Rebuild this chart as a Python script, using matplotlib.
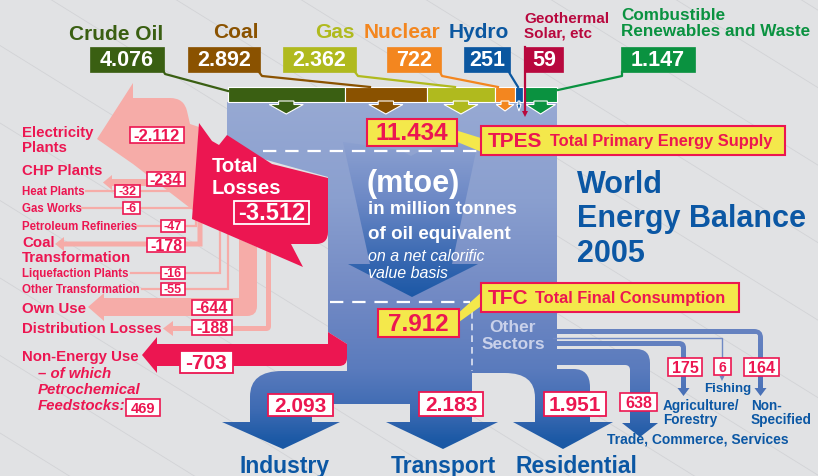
import numpy as np
import matplotlib
matplotlib.use('Agg')
import matplotlib.pyplot as plt
from matplotlib.path import Path
from matplotlib.patches import PathPatch, Rectangle, Polygon
from matplotlib.colors import to_rgb

# ---------------- data ----------------
sources = ["Crude Oil", "Coal", "Gas", "Nuclear", "Hydro",
           "Geothermal\nSolar, etc", "Combustible\nRenewables and Waste"]
source_values = [4076, 2892, 2362, 722, 251, 59, 1147]
tpes = 11434
tfc = 7912
total_losses = -3512
loss_items = ["Electricity\nPlants", "CHP Plants", "Heat Plants", "Gas Works",
              "Petroleum Refineries", "Coal\nTransformation", "Liquefaction Plants",
              "Other Transformation", "Own Use", "Distribution Losses"]
loss_values = [-2112, -234, -32, -6, -47, -178, -16, -55, -644, -188]
non_energy = -703
petrochem = 469
sectors = ["Industry", "Transport", "Residential"]
sector_values = [2093, 2183, 1951]
other_sectors = ["Trade, Commerce, Services", "Agriculture/\nForestry", "Fishing", "Non-\nSpecified"]
other_values = [638, 175, 6, 164]

# ---------------- style ----------------
BG = '#e1e2e4'
RED = '#ec1651'
PINK = '#f6aca8'
YEL = '#f4e84b'
TBLUE = '#0b57a4'
SRC_COL = ['#3a5f12', '#8a5200', '#b0ba1e', '#f3861f', '#0b57a0', '#b8083e', '#0a9240']
plt.rcParams['font.family'] = ['Liberation Sans', 'DejaVu Sans']


def fmt(v):
    s = f"{abs(v):,}".replace(",", ".")
    return ("-" if v < 0 else "") + s


W, H = 818, 477
fig = plt.figure(figsize=(8.18, 4.77), dpi=100)
fig.patch.set_facecolor(BG)
ax = fig.add_axes([0, 0, 1, 1])
ax.set_facecolor(BG)


def rpath(pts):
    n = len(pts)
    verts, codes = [], []
    for i, q in enumerate(pts):
        p = np.array(q[:2], float)
        r = q[2] if len(q) > 2 else 0
        if r <= 0:
            verts.append(p); codes.append(Path.MOVETO if i == 0 else Path.LINETO)
        else:
            a = np.array(pts[i - 1][:2], float); b = np.array(pts[(i + 1) % n][:2], float)
            da, db = a - p, b - p
            la, lb = np.hypot(*da), np.hypot(*db)
            s = p + da / la * min(r, la / 2); e = p + db / lb * min(r, lb / 2)
            verts.append(s); codes.append(Path.MOVETO if i == 0 else Path.LINETO)
            verts += [p, e]; codes += [Path.CURVE3, Path.CURVE3]
    verts.append(verts[0]); codes.append(Path.CLOSEPOLY)
    return Path(verts, codes)


def grad_fill(pts, stops, z):
    patch = PathPatch(rpath(pts), fc='none', ec='none', zorder=z)
    ax.add_patch(patch)
    ys = np.arange(H) + 0.5
    pos = [s[0] for s in stops]
    cols = np.array([to_rgb(s[1]) for s in stops])
    img = np.stack([np.interp(ys, pos, cols[:, k]) for k in range(3)], axis=-1)[:, None, :]
    im = ax.imshow(img, extent=(0, W, H, 0), aspect='auto', zorder=z, interpolation='bilinear')
    im.set_clip_path(patch)


def solid(pts, color, z, ec='none', lw=0):
    ax.add_patch(PathPatch(rpath(pts), fc=color, ec=ec, lw=lw, zorder=z))


def box(x0, y0, x1, y1, text, fs, fc='white', ec=RED, tc=RED, lw=1.3, z=10, style='normal'):
    ax.add_patch(Rectangle((x0, y0), x1 - x0, y1 - y0, fc=fc, ec=ec, lw=lw, zorder=z))
    ax.text((x0 + x1) / 2, (y0 + y1) / 2 + 0.5, text, fontsize=fs, color=tc, weight='bold',
            ha='center', va='center', zorder=z + 1, style=style)


def txt(x, y, s, fs, color, ha='left', va='center', weight='bold', style='normal', z=12, family=None):
    kw = {}
    if family:
        kw['family'] = family
    ax.text(x, y, s, fontsize=fs, color=color, ha=ha, va=va, weight=weight, style=style, zorder=z, **kw)


# ---------------- background diagonal lines ----------------
for x0 in range(-700, 900, 125):
    xs = np.array([x0, x0 + 900])
    ax.plot(xs, 0.62 * (xs - x0), color='#d2d3d6', lw=0.6, zorder=0)

# ---------------- pink loss streams ----------------
solid([(133, 84), (133, 99), (184, 99, 14), (190, 125), (199, 128), (194, 212), (133, 165), (97, 140)], PINK, 2)
# CHP
solid([(103, 183.5), (112, 176), (112, 180), (194, 180), (194, 187), (112, 187), (112, 191)], PINK, 2)
# Coal transformation
solid([(55, 245), (64, 238), (64, 242.5), (197.5, 242.5), (197.5, 222), (202.5, 224),
       (202.5, 247.5), (64, 247.5), (64, 252)], PINK, 2)
# Own use
solid([(88, 308), (104, 294), (104, 299), (239, 299), (239, 240), (257, 248),
       (257, 317, 10), (104, 317), (104, 322)], PINK, 2)
# Distribution losses
solid([(163, 329.5), (173, 322), (173, 327), (266, 327), (266, 251), (271, 253),
       (271, 332, 5), (173, 332), (173, 337)], PINK, 2)
# thin losses
for pts in [[(86, 192), (194, 192)], [(82, 209), (194, 209)], [(137, 227), (196, 227), (196, 222)],
            [(131, 274), (220, 274), (220, 232)], [(142, 290), (228, 290), (228, 236)]]:
    p = np.array(pts)
    ax.plot(p[:, 0], p[:, 1], color=PINK, lw=1.6, zorder=2, solid_joinstyle='miter')

# ---------------- blue flows ----------------
BLUE_STOPS = [(0, '#9aacd5'), (103, '#97a9d3'), (200, '#8a9fcf'), (300, '#7189c4'),
              (370, '#5a7bbd'), (410, '#3e6bb3'), (440, '#1d5aa6'), (477, '#0f52a0')]
# main body
grad_fill([(227, 103), (557, 103), (557, 372), (347, 372), (347, 345), (328, 333),
           (328, 178), (227, 150)], BLUE_STOPS, 3)
# industry
grad_fill([(352, 372), (250, 372, 32), (250, 423), (222, 423), (283, 450), (340, 423),
           (312, 423), (312, 405), (410, 405), (410, 360), (352, 360)], BLUE_STOPS, 3)
# transport
grad_fill([(410, 360), (472, 360), (472, 423), (498, 423), (443, 450), (386, 423), (410, 423)],
          BLUE_STOPS, 3)
# residential
grad_fill([(472, 360), (557, 360), (557, 370), (590, 370, 18), (590, 423), (613, 423), (563, 450),
           (513, 423), (535, 423), (535, 374, 30), (472, 374)], BLUE_STOPS, 3)
# trade
grad_fill([(553, 350), (650, 350, 14), (650, 424), (658, 424), (640, 438), (622, 424), (630, 424),
           (630, 366, 5), (553, 366)], BLUE_STOPS, 3)
# agriculture
grad_fill([(553, 342), (686, 342, 7), (686, 389), (689.5, 389), (683.5, 397), (677.5, 389), (681, 389),
           (681, 347, 2), (553, 347)], BLUE_STOPS, 3)
# non-specified
grad_fill([(553, 330), (763, 330, 9), (763, 389), (766.5, 389), (760.5, 397), (754.5, 389), (758, 389),
           (758, 335, 2), (553, 335)], BLUE_STOPS, 3)
# fishing
ax.plot([553, 722, 722], [339, 339, 378], color='#6f89c4', lw=1.0, zorder=3)
ax.add_patch(Polygon([(719.5, 377), (724.5, 377), (722, 382)], closed=True, fc='#6f89c4', ec='none', zorder=3))

# inner big arrow
grad_fill([(343, 143), (400, 151), (411, 157), (422, 151), (478, 143), (452, 265), (478, 265),
           (412, 298), (348, 265), (370, 265)],
          [(140, '#8ea2d1'), (200, '#6d89c6'), (265, '#3466b0'), (300, '#1a57a5')], 4)

# dashed lines
ax.plot([263, 478], [152, 152], color='white', lw=1.6, dashes=(6, 4), zorder=6)
ax.plot([330, 470], [303, 303], color='white', lw=1.6, dashes=(6, 4), zorder=6)
ax.plot([472, 472], [313, 372], color='#dfe4f2', lw=1.2, dashes=(4, 3), zorder=6)

# ---------------- red shapes ----------------
solid([(199, 124), (212, 142), (219, 146), (227, 136), (272, 165), (328, 179), (328, 245, 12),
       (291, 245), (303, 268), (192, 220)], RED, 5)
solid([(142, 356), (157, 338), (157, 345), (328, 345), (328, 333), (347, 345), (347, 367, 8),
       (157, 367), (157, 374)], RED, 5)

# ---------------- source bar ----------------
scale = 329.0 / sum(source_values)
x = 228.0
seg_centers = []
for v, c in zip(source_values, SRC_COL):
    w = v * scale
    ax.add_patch(Rectangle((x, 88), w, 15, fc=c, ec='white', lw=0.8, zorder=7))
    seg_centers.append((x + w / 2, w))
    x += w
for (cx, w), c in zip(seg_centers, SRC_COL):
    if w < 4:
        continue
    hw = min(17, w / 2 - 1.5)
    sw = hw * 0.45
    tip = 115 if hw > 12 else 112
    ax.add_patch(Polygon([(cx - sw, 102), (cx + sw, 102), (cx + sw, 105.5), (cx + hw, 105.5), (cx, tip),
                          (cx - hw, 105.5), (cx - sw, 105.5)], closed=True, fc=c, ec='white', lw=0.8, zorder=7))

# connectors
conns = [[(164, 73), (165, 75), (228, 92)], [(259, 73), (262, 77), (370, 88)],
         [(355, 73), (358, 77), (455, 88)], [(440, 73), (442, 77), (498, 88)],
         [(509, 73), (510, 75), (518, 88)], [(525, 48), (525, 114)],
         [(622, 73), (622, 77), (558, 91)]]
for pts, c in zip(conns, SRC_COL):
    p = np.array(pts)
    ax.plot(p[:, 0], p[:, 1], color=c, lw=1.6, zorder=8)
ax.add_patch(Polygon([(522, 112), (528, 112), (525, 118)], closed=True, fc=SRC_COL[5], ec='none', zorder=8))

# source labels & boxes
src_boxes = [(90, 164), (188, 260), (283, 356), (387, 441), (464, 510), (525, 563), (621, 695)]
for i, ((bx0, bx1), c, v, name) in enumerate(zip(src_boxes, SRC_COL, source_values, sources)):
    box(bx0, 48, bx1, 73, fmt(v), 15.5, fc=c, ec=c, tc='white', lw=0.5)
    if i < 5:
        txt(bx1 - 1, 35 if i == 0 else 32, name, 15, c, ha='right')
    elif i == 5:
        l1, l2 = name.split('\n')
        txt(524, 19, l1, 11, c); txt(524, 33, l2, 11, c)
    else:
        l1, l2 = name.split('\n')
        txt(621, 15, l1, 12.3, c); txt(621, 32, l2, 12.3, c)

# ---------------- TPES / TFC ----------------
ax.add_patch(Polygon([(455, 131), (455, 142), (484, 154), (484, 140)], closed=True, fc=YEL, ec='none', zorder=9))
box(367, 120, 457, 147, fmt(tpes), 17.5, fc=YEL, ec=RED, tc=RED, lw=1.5)
ax.add_patch(Rectangle((481, 127), 304, 29, fc=YEL, ec=RED, lw=1.5, zorder=10))
txt(488, 142, "TPES", 15, RED)
txt(550, 142, "Total Primary Energy Supply", 11.8, RED)

ax.add_patch(Polygon([(455, 317), (484, 291), (484, 305), (459, 323)], closed=True, fc=YEL, ec='none', zorder=9))
box(378, 310, 459, 338, fmt(tfc), 17.5, fc=YEL, ec=RED, tc=RED, lw=1.5)
ax.add_patch(Rectangle((481, 284), 258, 29, fc=YEL, ec=RED, lw=1.5, zorder=10))
txt(488, 299, "TFC", 15, RED)
txt(535, 299, "Total Final Consumption", 11.8, RED)

# ---------------- centre text ----------------
txt(367, 184, "(mtoe)", 22, 'white')
txt(368, 210, "in million tonnes", 13.5, 'white')
txt(368, 235, "of oil equivalent", 13.5, 'white')
txt(368, 257, "on a net calorific", 11.5, 'white', weight='normal', style='italic')
txt(368, 274, "value basis", 11.5, 'white', weight='normal', style='italic')

# title
txt(577, 185, "World", 22, TBLUE)
txt(577, 219, "Energy Balance", 22, TBLUE)
txt(577, 254, "2005", 22, TBLUE)

# ---------------- losses ----------------
txt(212, 167, "Total", 14.5, 'white')
txt(212, 189, "Losses", 14.5, 'white')
box(234, 202, 309, 225, fmt(total_losses), 17, fc='none', ec='white', tc='white', lw=1.3)

loss_lab = [[(133, 'Electricity'), (148, 'Plants')], [(171, 'CHP Plants')], [(192, 'Heat Plants')],
            [(209, 'Gas Works')], [(227, 'Petroleum Refineries')],
            [(243, 'Coal'), (258, 'Transformation')], [(274, 'Liquefaction Plants')],
            [(290, 'Other Transformation')], [(309, 'Own Use')], [(329, 'Distribution Losses')]]
loss_fs = [10.8, 10.8, 8.3, 8.3, 8.3, 10.8, 8.3, 8.3, 10.8, 10.8]
loss_box = [(130, 128, 184, 144), (147, 173, 185, 187), (115, 186, 140, 198), (123, 203, 140, 215),
            (161, 221, 185, 233), (147, 239, 185, 253), (161, 268, 185, 280), (161, 284, 185, 296),
            (192, 301, 232, 316), (192, 321, 232, 336)]
loss_box_fs = [12, 11.5, 9, 9, 9, 11.5, 9, 9, 11.5, 11.5]
for lines, fs, bx, bfs, v in zip(loss_lab, loss_fs, loss_box, loss_box_fs, loss_values):
    for yy, s in lines:
        txt(22, yy, s, fs, RED)
    box(*bx, fmt(v), bfs, lw=1.2)

txt(22, 357, "Non-Energy Use", 10.8, RED)
txt(38, 374, "\u2013 of which", 10.8, RED, style='italic')
txt(38, 390, "Petrochemical", 10.8, RED, style='italic')
txt(38, 406, "Feedstocks:", 10.8, RED, style='italic')
box(126, 400, 160, 417, fmt(petrochem), 10.5, lw=1.2)
box(180, 352, 233, 374, fmt(non_energy), 15, lw=1.3)

# ---------------- consumption ----------------
sec_box = [(268, 395, 333, 417), (419, 393, 483, 417), (544, 393, 606, 417)]
sec_x = [285, 443, 576]
for (bx, v, name, cx) in zip(sec_box, sector_values, sectors, sec_x):
    box(*bx, fmt(v), 15, lw=1.3)
    txt(cx, 473, name, 16.5, TBLUE, ha='center', va='baseline',
        family=['Liberation Sans Narrow', 'Liberation Sans'])

txt(512, 328, "Other", 12.5, '#c9d1ea', ha='center')
txt(513, 345, "Sectors", 12.5, '#c9d1ea', ha='center')

box(620, 394, 657, 412, fmt(other_values[0]), 11.5, lw=1.2)
box(668, 359, 702, 377, fmt(other_values[1]), 11.5, lw=1.2)
box(714, 359, 731, 376, fmt(other_values[2]), 10, lw=1.2)
box(744, 359, 779, 377, fmt(other_values[3]), 11.5, lw=1.2)
txt(607, 440, other_sectors[0], 10, TBLUE)
a1, a2 = other_sectors[1].split('\n')
txt(663, 406, a1, 9.8, TBLUE); txt(663, 420, a2, 9.8, TBLUE)
txt(704, 389, other_sectors[2], 9.5, TBLUE)
n1, n2 = other_sectors[3].split('\n')
txt(751, 406, n1, 9.8, TBLUE); txt(751, 420, n2, 9.8, TBLUE)

ax.set_xlim(0, W)
ax.set_ylim(H, 0)
ax.axis('off')
fig.savefig('out.png', dpi=100, facecolor=BG)
